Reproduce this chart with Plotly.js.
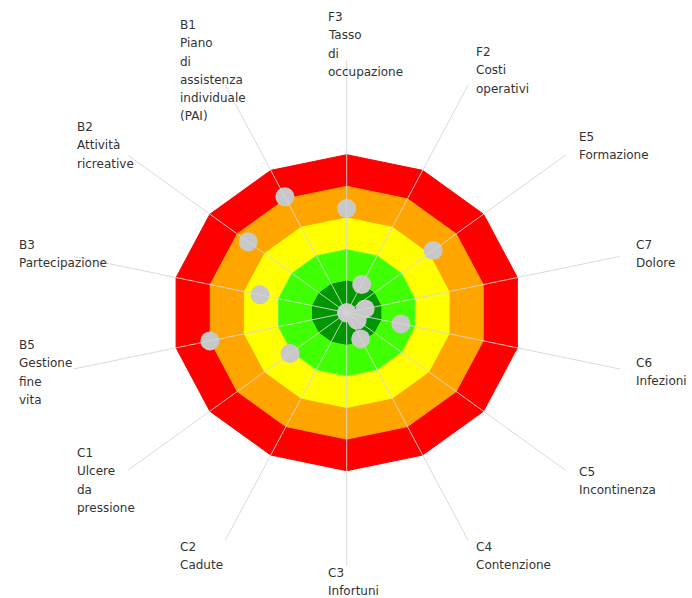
<!DOCTYPE html>
<html>
<head>
<meta charset="utf-8">
<script src="https://cdn.plot.ly/plotly-3.0.1.min.js"></script>
<style>html,body{margin:0;padding:0;background:#fff;}#chart{width:692px;height:598px;}</style>
</head>
<body>
<div id="chart"></div>
<script>
// ---- data ----
const categories = ['F3','F2','E5','C7','C6','C5','C4','C3','C2','C1','B5','B3','B2','B1'];
const categoryNames = ['Tasso di occupazione','Costi operativi','Formazione','Dolore','Infezioni','Incontinenza','Contenzione','Infortuni','Cadute','Ulcere da pressione','Gestione fine vita','Partecipazione','Attività ricreative','Piano di assistenza individuale (PAI)'];
const values = [3.30, 0.99, 3.16, 0.54, 1.59, 0.38, 0.92, 0, 0, 2.07, 4.01, 2.54, 3.60, 4.07];
const bandLevels = [5, 4, 3, 2, 1];

// ---- styles / layout (not data) ----
const bandColors = ['#ff0000', '#ffa500', '#ffff00', '#40ff00', '#009600'];
const bandLines  = ['#ff0000', '#ffa500', '#ffff00', '#5cff40', '#008a00'];
const spokeLength = 8.0;
const lineSpacing = 18.3;
// offset (px) of label block (left edge, first line centre) from spoke end
const labelDx = [-18.7, 7.8, 13.7, 16.3, 16.3, 13.7, 7.8, -18.7, -45.2, -50.8, -54.7, -54.7, -50.8, -45.2];
const labelDy = [-43, -33, -18.4, -11.5, -6, 1.4, 6.2, 7.5, 6.2, -17.3, -24, -11.5, -28, -60];

const n = categories.length;
const ang = categories.map((c, i) => (90 - i * 360 / n) * Math.PI / 180);
const px = (r, i) => r * Math.cos(ang[i]);
const py = (r, i) => r * Math.sin(ang[i]);

const traces = [];
bandLevels.forEach((lv, b) => {
  const xs = [], ys = [];
  for (let i = 0; i <= n; i++) { xs.push(px(lv, i % n)); ys.push(py(lv, i % n)); }
  traces.push({type: 'scatter', mode: 'lines', x: xs, y: ys, fill: 'toself',
    fillcolor: bandColors[b], line: {color: bandLines[b], width: 1},
    hoverinfo: 'skip', showlegend: false});
});

traces.push({type: 'scatter', mode: 'markers',
  x: values.map((v, i) => px(v, i)), y: values.map((v, i) => py(v, i)),
  marker: {size: 19, color: '#c8c8c8', line: {width: 0}},
  text: categories.map((c, i) => c + ' ' + categoryNames[i]), hoverinfo: 'text', showlegend: false});

const sx = [], sy = [];
categories.forEach((c, i) => { sx.push(0, px(spokeLength, i), null); sy.push(0, py(spokeLength, i), null); });
traces.push({type: 'scatter', mode: 'lines', x: sx, y: sy,
  line: {color: 'rgba(214,214,214,0.9)', width: 1}, hoverinfo: 'skip', showlegend: false});

const annotations = [];
categories.forEach((c, i) => {
  const lines = [c].concat(categoryNames[i].split(' '));
  lines.forEach((t, k) => {
    annotations.push({x: px(spokeLength, i), y: py(spokeLength, i), xref: 'x', yref: 'y',
      text: t, showarrow: false, xanchor: 'left', yanchor: 'middle',
      xshift: labelDx[i], yshift: -(labelDy[i] + k * lineSpacing),
      borderpad: 0, borderwidth: 0,
      font: {family: 'DejaVu Sans', size: 12, color: '#333333'}});
  });
});

const ux = 35, uy = 31.6, cxp = 346.7, cyp = 312.7, W = 692, H = 598;
const layout = {
  width: W, height: H, margin: {l: 0, r: 0, t: 0, b: 0},
  paper_bgcolor: '#ffffff', plot_bgcolor: '#ffffff', showlegend: false,
  xaxis: {range: [-cxp / ux, (W - cxp) / ux], visible: false, fixedrange: true},
  yaxis: {range: [-(H - cyp) / uy, cyp / uy], visible: false, fixedrange: true},
  annotations: annotations
};
Plotly.newPlot('chart', traces, layout, {displayModeBar: false, staticPlot: true});
</script>
</body>
</html>
